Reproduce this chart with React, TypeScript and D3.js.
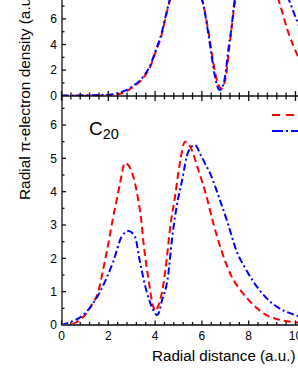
import React, { useEffect, useRef } from "react";
import * as d3 from "d3";

// upper panel (partly out of frame)
const upperRedX = [0, 1, 2, 2.5, 3, 3.5, 3.8, 4.0, 4.3, 4.5, 4.8, 5.3, 5.8, 6.1, 6.3, 6.45, 6.6, 6.75, 6.85, 6.95, 7.05, 7.15, 7.27, 7.4, 7.7, 8.3, 8.9, 9.34, 9.7, 10.05, 10.4, 11];
const upperRedY = [0, 0, 0.03, 0.15, 0.6, 1.4, 2.3, 3.3, 4.9, 6.5, 8.5, 10, 8.6, 6.8, 4.8, 3.0, 1.5, 0.7, 0.55, 0.9, 1.8, 3.4, 5.3, 7.2, 9.5, 10.5, 9.5, 7.1, 4.9, 3.3, 2.0, 0.8];
const upperBlueX = [0, 1, 2, 2.5, 3, 3.5, 3.8, 4.0, 4.28, 4.5, 4.8, 5.3, 5.8, 6.05, 6.27, 6.42, 6.56, 6.7, 6.77, 6.88, 6.99, 7.13, 7.27, 7.38, 7.7, 8.5, 9.2, 9.76, 10.05, 10.4, 11];
const upperBlueY = [0.02, 0.03, 0.08, 0.25, 0.7, 1.5, 2.4, 3.4, 4.9, 6.6, 8.6, 10, 8.4, 7.2, 4.9, 3.05, 1.5, 0.55, 0.45, 0.7, 1.5, 3.6, 5.4, 7.2, 9.5, 10.5, 9.8, 7.3, 5.9, 4.3, 2.5];

// lower panel: C20
const lowerRedX = [0, 0.4, 0.65, 1.0, 1.29, 1.57, 1.79, 2.07, 2.21, 2.36, 2.5, 2.71, 2.85, 3.0, 3.14, 3.28, 3.4, 3.5, 3.71, 3.92, 4.02, 4.15, 4.35, 4.5, 4.64, 4.85, 5.06, 5.28, 5.5, 5.85, 6.2, 6.49, 6.85, 7.27, 7.7, 8.2, 8.7, 9.34, 10, 10.5];
const lowerRedY = [0, 0.02, 0.09, 0.3, 0.6, 1.0, 1.7, 2.7, 3.25, 3.75, 4.25, 4.86, 4.8, 4.6, 4.25, 3.75, 3.2, 2.5, 1.4, 0.55, 0.42, 0.6, 1.2, 2.0, 2.9, 3.85, 4.86, 5.5, 5.35, 4.65, 3.85, 3.05, 2.2, 1.45, 1.0, 0.6, 0.32, 0.15, 0.08, 0.05];
const lowerBlueX = [0, 0.22, 0.6, 0.93, 1.3, 1.65, 1.95, 2.21, 2.57, 2.86, 3.14, 3.35, 3.64, 3.92, 4.07, 4.15, 4.28, 4.56, 4.71, 4.92, 5.14, 5.42, 5.7, 5.95, 6.13, 6.35, 6.77, 7.13, 7.49, 7.84, 8.2, 8.7, 9.2, 9.98, 10.5];
const lowerBlueY = [0, 0.05, 0.15, 0.3, 0.6, 1.0, 1.45, 1.9, 2.65, 2.82, 2.65, 1.9, 1.0, 0.45, 0.3, 0.35, 0.7, 1.5, 2.5, 3.55, 4.3, 5.2, 5.4, 5.1, 4.85, 4.55, 3.75, 3.0, 2.2, 1.72, 1.3, 0.85, 0.55, 0.3, 0.2];

const xTicks = [0, 2, 4, 6, 8, 10];
const upperYTicks = [0, 2, 4, 6];
const lowerYTicks = [0, 1, 2, 3, 4, 5, 6];

const font = "'Liberation Sans', Arial, sans-serif";
const RED = "#ff0000";
const BLUE = "#0000ff";
const redDash = "7,4";
const blueDash = "7,3,2,3";

export default function App() {
  const svgRef = useRef<SVGSVGElement>(null);

  useEffect(() => {
    if (!svgRef.current) return;
    const svg = d3.select(svgRef.current);
    svg.selectAll("*").remove();

    const axisX = 62;
    const midY = 96;
    const botY = 325;

    const x = d3.scaleLinear().domain([0, 10]).range([61.5, 295.5]);
    const yTop = d3.scaleLinear().domain([0, 7.5]).range([95.7, -0.3]);
    const yBot = d3.scaleLinear().domain([0, 6]).range([botY, 125]);

    const defs = svg.append("defs");
    defs.append("clipPath").attr("id", "clipTop")
      .append("rect").attr("x", axisX).attr("y", -100).attr("width", 400).attr("height", midY + 100);
    defs.append("clipPath").attr("id", "clipBot")
      .append("rect").attr("x", axisX).attr("y", midY).attr("width", 400).attr("height", botY - midY);

    const drawCurve = (
      clip: string,
      xs: number[],
      ys: number[],
      yScale: d3.ScaleLinear<number, number>,
      color: string,
      dash: string
    ) => {
      const pts = xs.map((v, i) => [v, ys[i]] as [number, number]);
      const line = d3.line<[number, number]>()
        .x((d) => x(d[0]))
        .y((d) => yScale(d[1]))
        .curve(d3.curveMonotoneX);
      svg.append("path")
        .datum(pts)
        .attr("clip-path", `url(#${clip})`)
        .attr("fill", "none")
        .attr("stroke", color)
        .attr("stroke-width", 2)
        .attr("stroke-dasharray", dash)
        .attr("d", line);
    };

    drawCurve("clipTop", upperRedX, upperRedY, yTop, RED, redDash);
    drawCurve("clipTop", upperBlueX, upperBlueY, yTop, BLUE, blueDash);
    drawCurve("clipBot", lowerRedX, lowerRedY, yBot, RED, redDash);
    drawCurve("clipBot", lowerBlueX, lowerBlueY, yBot, BLUE, blueDash);

    // legend lines (labels fall outside the frame)
    svg.append("line").attr("x1", 272).attr("x2", 310).attr("y1", 115).attr("y2", 115)
      .attr("stroke", RED).attr("stroke-width", 2).attr("stroke-dasharray", "8,6");
    svg.append("line").attr("x1", 272).attr("x2", 310).attr("y1", 131).attr("y2", 131)
      .attr("stroke", BLUE).attr("stroke-width", 2).attr("stroke-dasharray", "11,3,2,3");

    const axes = svg.append("g").attr("stroke", "#111").attr("stroke-width", 1.3);

    // axis lines
    axes.append("line").attr("x1", axisX).attr("x2", axisX).attr("y1", -5).attr("y2", botY + 0.7);
    axes.append("line").attr("x1", axisX).attr("x2", 310).attr("y1", midY).attr("y2", midY);
    axes.append("line").attr("x1", axisX).attr("x2", 310).attr("y1", botY).attr("y2", botY)
      .attr("stroke", "#444").attr("stroke-width", 1.8);

    // x ticks every 0.4
    const xMinor = d3.range(0, 10.5, 0.4);
    const isMajor = (v: number) => Math.abs(v / 2 - Math.round(v / 2)) < 0.01;
    xMinor.forEach((v) => {
      const px = x(v);
      const m = isMajor(v);
      axes.append("line").attr("x1", px).attr("x2", px)
        .attr("y1", midY - (m ? 5 : 3.5)).attr("y2", midY + (m ? 5 : 3.5));
      axes.append("line").attr("x1", px).attr("x2", px)
        .attr("y1", botY - (m ? 4.5 : 3)).attr("y2", botY);
    });

    // upper y ticks
    d3.range(1, 8, 1).forEach((v) => {
      const py = yTop(v);
      axes.append("line").attr("x1", axisX).attr("x2", axisX + (v % 2 === 0 ? 4 : 2.5))
        .attr("y1", py).attr("y2", py);
    });
    // lower y ticks
    d3.range(0.5, 6.9, 0.5).forEach((v) => {
      const py = yBot(v);
      axes.append("line").attr("x1", axisX).attr("x2", axisX + (Number.isInteger(v) ? 4 : 2.5))
        .attr("y1", py).attr("y2", py);
    });

    const labels = svg.append("g").attr("font-family", font).attr("fill", "#000");

    upperYTicks.forEach((v) => {
      labels.append("text").attr("x", 57).attr("y", yTop(v)).attr("dy", "0.36em")
        .attr("text-anchor", "end").attr("font-size", 12).text(String(v));
    });
    lowerYTicks.forEach((v) => {
      labels.append("text").attr("x", 57).attr("y", yBot(v)).attr("dy", "0.36em")
        .attr("text-anchor", "end").attr("font-size", 12).text(String(v));
    });
    xTicks.forEach((v) => {
      labels.append("text").attr("x", x(v)).attr("y", 340)
        .attr("text-anchor", "middle").attr("font-size", 12).text(String(v));
    });

    labels.append("text").attr("x", 152).attr("y", 361).attr("font-size", 15.2)
      .text("Radial distance (a.u.)");
    labels.append("text")
      .attr("transform", "translate(30,200) rotate(-90)")
      .attr("font-size", 15.4)
      .text("Radial π-electron density (a.u.)");

    const c = labels.append("text").attr("x", 89).attr("y", 135).attr("font-size", 19);
    c.append("tspan").text("C");
    c.append("tspan").attr("font-size", 14.5).attr("dy", 4).text("20");
  }, []);

  return (
    <svg
      ref={svgRef}
      width={298}
      height={385}
      style={{ position: "absolute", left: 0, top: 0, background: "#fff" }}
    />
  );
}
